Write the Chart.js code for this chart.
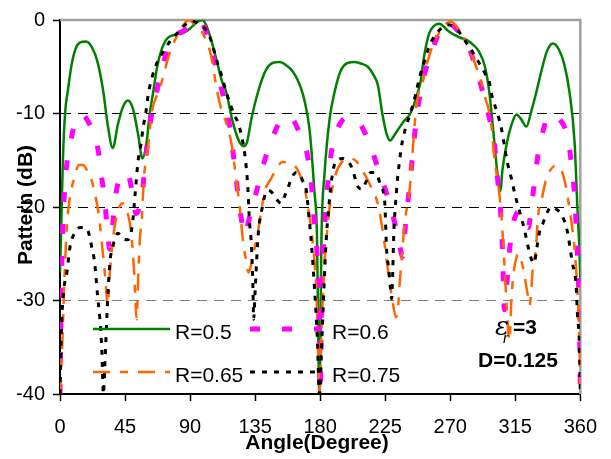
<!DOCTYPE html>
<html>
<head>
<meta charset="utf-8">
<script src="https://cdn.jsdelivr.net/npm/chart.js@4.4.0/dist/chart.umd.min.js"></script>
<style>
  html, body { margin: 0; padding: 0; background: #fff; }
  #wrap { width: 611px; height: 459px; }
</style>
</head>
<body>
<div id="wrap"><canvas id="canvas" width="611" height="459"></canvas></div>
<script>
// angle (degree) / pattern (dB)
var angR05 = [0, 1, 2, 3.5, 5.5, 8, 11, 14, 18, 22, 26, 30, 33, 36.5, 40, 43.5, 47, 50.5, 54, 57, 60, 62, 64.5, 67, 70, 74, 79, 85, 90, 95, 98.5, 101, 104, 108, 112, 115, 119.5, 124, 127, 129.5, 132.5, 137, 142, 147, 152, 157, 161, 165, 168, 171, 173, 176, 177.7, 179.5, 181, 183, 186.6, 190, 194, 199, 204, 209, 213, 217, 220, 223, 226, 228.5, 231, 234, 238, 242, 245, 247, 249.5, 252, 255.5, 259, 262.5, 265.5, 268, 273, 277, 281, 285.5, 290, 294, 297, 300.5, 302.7, 304.8, 306, 309, 312.4, 315.8, 319, 322.7, 326, 329.6, 333, 337, 341, 345, 349, 352.5, 356, 358, 359.4, 360];
var valR05 = [-27, -21, -15, -10, -7.5, -4.8, -3, -2.4, -2.3, -2.9, -4.5, -7.7, -11.2, -13.7, -11.2, -9.3, -8.6, -9.5, -12.2, -14.8, -13, -10.1, -7.7, -5.2, -3.3, -2, -1.6, -1.4, -0.9, -0.2, 0, -0.5, -1.8, -4.1, -6.5, -7.7, -10.9, -13, -13.5, -13, -10.5, -7.7, -5.5, -4.6, -4.5, -4.9, -5.5, -6.6, -7.9, -10, -12.2, -18.3, -22.6, -40, -22.6, -16.5, -10.5, -7.7, -5.5, -4.6, -4.5, -4.7, -5, -5.9, -7, -10, -12.2, -12.9, -12.4, -11.7, -10.8, -10.1, -9, -8, -6.6, -3.8, -1.4, -0.6, -0.4, -0.7, -1.1, -1.6, -1.9, -2.1, -2.6, -3.4, -5, -7.7, -13, -16.5, -18.3, -16.2, -13.3, -11.2, -10.1, -10.6, -11.4, -9.8, -7.7, -5.5, -3.3, -2.5, -3.1, -4.8, -7.7, -13, -20.1, -24.7, -28];

var angR06 = [0, 1, 2, 3.5, 5, 7, 10, 13.5, 17, 21, 24, 27, 29, 31, 33, 34.5, 36.5, 38.5, 41, 44.5, 48, 50.5, 52.5, 54.5, 56.7, 58.7, 61, 63.5, 66, 70, 75, 79.5, 85, 90, 96, 100, 103, 105.8, 109, 112, 115, 117.5, 120, 122.5, 125, 128, 130.5, 133.6, 136.5, 139.5, 143, 147, 152, 157, 161, 165, 168, 170.6, 172.5, 174, 175.5, 177.5, 179, 180, 181, 183, 184.5, 186.6, 188.5, 191.3, 195, 199, 204, 208, 212, 215.6, 219, 223, 226.5, 230, 233, 235, 237, 239, 241, 242.5, 244, 246.7, 248.5, 251, 254, 257, 260, 263, 267, 271, 276, 280, 283, 286.5, 290, 293, 296, 298.5, 300.6, 302.7, 304.8, 306, 307.5, 309, 311, 313, 315.5, 318.5, 321.5, 324, 326, 328, 331, 334, 337, 340, 343, 346.5, 349.7, 352, 353.8, 356, 357.2, 358.5, 359.4, 360];
var valR06 = [-40, -28, -22, -17.5, -15, -13.3, -11.2, -10.1, -10.3, -11.3, -12.3, -14.5, -17, -19.3, -23, -24.5, -21.8, -18.8, -17, -16.3, -16.9, -19, -20.7, -20.3, -19, -15.6, -12.6, -10, -8.4, -5.4, -3, -1.7, -1.2, -0.8, 0, -0.8, -2.2, -3.8, -5.6, -7.5, -9.6, -11.4, -14.5, -17.8, -20.8, -23, -21.5, -19.7, -18, -16.2, -14.3, -12.6, -10.9, -10.3, -10.6, -11.8, -12.8, -14, -15.8, -17.6, -20.8, -24, -31, -40, -30, -22.5, -19, -15.5, -13.5, -11.9, -10.8, -10.4, -10.5, -11.2, -12.4, -13.8, -15.4, -17.2, -18.8, -20.7, -22.6, -24.1, -25.3, -22, -19, -17, -14.3, -10.5, -8.5, -6.6, -4.8, -3.4, -2.2, -1.1, -0.3, -0.5, -1.3, -2.2, -3, -4.5, -6.3, -8, -9.8, -11.5, -13.3, -16.9, -20.4, -24, -31, -28.5, -24.7, -22.2, -20.8, -20.4, -21, -22.2, -20.3, -17.7, -14.1, -12, -10.5, -10.1, -10.3, -10.8, -11.7, -13.2, -15.3, -18.7, -22.3, -27, -32, -40];

var angR065 = [0, 1.5, 3, 4.8, 7, 9.7, 13, 16, 19, 22, 24, 26, 27.6, 29, 30.4, 31.5, 33, 34.5, 36.6, 38.5, 41, 43.5, 46, 48.4, 50, 51.5, 53, 54.2, 55.2, 56.7, 58, 60.8, 63.6, 68, 71, 74.7, 78, 83, 86.5, 89, 92, 97, 100, 103, 105.5, 108, 111, 115, 118.7, 122, 124.4, 126.6, 128.5, 130.5, 132.5, 134.5, 137, 139.5, 141.7, 146.3, 150, 154, 158, 163.5, 167, 170.6, 172.8, 175, 177, 178.5, 179.5, 181, 183, 185.5, 187.7, 190.7, 195.5, 200, 205, 209.6, 212.5, 215.6, 220, 222.5, 224.6, 226.7, 228.5, 230, 232.5, 234, 235, 236.3, 238.4, 240.3, 242, 244, 246.7, 251, 254, 258, 263, 267, 270.6, 274, 278, 283, 287, 291.4, 294.5, 296, 298.5, 300.6, 304, 306, 307.8, 309.6, 311, 312.3, 313.5, 315.8, 317.5, 319, 321, 323.5, 325, 326, 327, 329.4, 330.6, 333, 336.4, 339.5, 342.5, 346, 349.7, 353, 356, 358, 359.3, 360];
var valR065 = [-40, -35, -28, -22, -18.8, -17, -15.5, -15.5, -16.2, -17.2, -18.5, -20, -21.8, -24, -26, -28, -30.5, -27, -23.5, -21.5, -20, -19.6, -20.3, -21.8, -24, -27.5, -32, -27, -23.6, -21, -17, -13.7, -9.8, -7.7, -6.3, -4.1, -2.7, -1.1, -0.3, 0, -0.3, -1, -1.8, -2.9, -4.6, -7, -9.2, -11, -13.3, -17.2, -20.1, -23.6, -25.5, -27, -26, -24.5, -22.6, -20.2, -18.3, -16.9, -15.8, -15.2, -15.3, -15.8, -17, -19, -21.2, -24, -28, -34, -40, -33, -26, -21.5, -18.6, -16.5, -15.1, -14.8, -15.1, -16.2, -17, -18, -19.7, -21.8, -24, -26.5, -28.5, -30, -31.8, -30.5, -28.2, -25.7, -21.8, -19.8, -18, -14, -9, -6.6, -4.6, -2.7, -1.2, -0.4, -0.2, -0.6, -1.5, -3, -4.6, -6.6, -8.5, -9.2, -11.3, -14.8, -18.6, -22.2, -27, -32.1, -34.3, -30, -27.5, -25.4, -25, -25.6, -27, -29.3, -30.5, -29, -26.8, -24.3, -21.2, -19.4, -17, -16, -15.6, -15.8, -17.6, -20.7, -24.4, -29, -34, -40];

var angR075 = [0, 1, 2.5, 4.8, 6.9, 10.4, 14, 18.5, 22, 24, 26, 27.6, 29, 30, 31, 32.5, 34.5, 36.6, 40, 43.5, 47, 50, 52, 54, 56, 57.4, 59.4, 61, 63.4, 67, 71.4, 76, 80.6, 86, 91, 96, 102, 105, 108, 111.5, 115, 118.7, 121, 123, 125.6, 127.8, 129, 130, 131, 132.4, 133.4, 134, 135, 136.3, 137.5, 139.5, 141.7, 144, 147, 150, 153, 155.5, 157.6, 160.5, 163.6, 166, 168, 170.6, 172, 174, 176, 178, 179.5, 181.5, 184, 186, 188, 190, 193, 195.6, 199, 202, 206, 209, 212, 215, 217.7, 220, 222, 224.6, 226, 227.4, 228.5, 229.5, 230.2, 231, 232, 233.6, 235, 236.5, 239, 242.4, 246, 249, 252, 255, 258, 263, 268, 272, 277.8, 281, 285.4, 290, 294, 297, 299, 302.7, 305.5, 309.6, 312.4, 315, 318, 321, 323.5, 326, 328, 330, 332, 334, 337, 340, 344, 347.6, 351, 354.5, 357, 358, 359.4, 360];
var valR075 = [-40, -33, -29, -27, -24.3, -22.7, -22.2, -22.3, -24.3, -26, -29.5, -32, -35.5, -40, -37, -31.5, -26, -24.2, -22.8, -23.4, -23.5, -22, -18.6, -15.1, -13.3, -11.6, -9.9, -8, -6.3, -4.6, -3.4, -2.3, -1.5, -0.6, -0.1, -0.4, -1.3, -2.4, -4.1, -5.8, -7.7, -9.4, -10.3, -10.9, -12.4, -14.3, -16, -18, -21.3, -24, -28, -32, -29, -25, -22.3, -20.4, -18.8, -18.2, -18.5, -19.2, -19.6, -18.8, -18, -16.8, -16.3, -16.6, -17.2, -18.4, -20.7, -24, -28.5, -34, -40, -33, -24, -20, -17, -15.4, -14.9, -14.8, -15.1, -15.8, -17.8, -18.1, -17.2, -16.3, -16.3, -16.8, -17.8, -19.3, -24.7, -26.5, -28.5, -29.8, -27, -22.5, -20, -16.9, -15, -13.3, -11.6, -10, -8, -6, -4.5, -3, -2, -1, -0.5, -0.7, -1.6, -2.4, -3.4, -4.6, -5.7, -6.6, -8.2, -10, -11.7, -15.3, -17, -18.8, -20.5, -22.2, -24, -25.5, -26, -24.3, -22.5, -21.8, -20.6, -20, -20.3, -21, -22.6, -26, -28.2, -31.4, -35, -40];

var seriesNames = ['R=0.5', 'R=0.6', 'R=0.65', 'R=0.75'];
var xTicks = [0, 45, 90, 135, 180, 225, 270, 315, 360];
var yTicks = [0, -10, -20, -30, -40];

var FONT = "'Liberation Sans', Arial, sans-serif";

function toPoints(xs, ys) {
    var pts = [];
    for (var i = 0; i < xs.length; i++) {
        pts.push({x: xs[i], y: ys[i]});
    }
    return pts;
}

function lineSet(label, xs, ys, color, width, dash, order) {
    return {
        label: label,
        data: toPoints(xs, ys),
        borderColor: color,
        backgroundColor: color,
        borderWidth: width,
        borderDash: dash,
        borderCapStyle: 'butt',
        pointRadius: 0,
        fill: false,
        cubicInterpolationMode: 'monotone',
        order: order
    };
}

// frame, legend, axis titles and the notes
var overlay = {
    id: 'overlay',
    beforeDatasetsDraw: function (chart) {
        var ctx = chart.ctx, a = chart.chartArea;
        ctx.save();
        ctx.strokeStyle = '#a0a0a0';
        ctx.lineWidth = 2.5;
        ctx.beginPath();
        ctx.moveTo(a.left, a.top);
        ctx.lineTo(a.right, a.top);
        ctx.lineTo(a.right, a.bottom);
        ctx.stroke();
        ctx.restore();
    },
    afterDraw: function (chart) {
        var ctx = chart.ctx;
        var ds = chart.data.datasets;
        ctx.save();

        // legend
        var items = [
            {i: 0, x1: 93, x2: 170, y: 329, tx: 175, ty: 339},
            {i: 1, x1: 250, x2: 322, y: 329, tx: 332, ty: 339},
            {i: 2, x1: 93, x2: 170, y: 372, tx: 175, ty: 382},
            {i: 3, x1: 250, x2: 322, y: 372, tx: 332, ty: 382}
        ];
        items.forEach(function (it) {
            var d = ds[it.i];
            ctx.strokeStyle = d.borderColor;
            ctx.lineWidth = d.borderWidth;
            ctx.setLineDash(d.borderDash || []);
            ctx.beginPath();
            ctx.moveTo(it.x1, it.y);
            ctx.lineTo(it.x2, it.y);
            ctx.stroke();
            ctx.setLineDash([]);
            ctx.fillStyle = '#000';
            ctx.font = '21px ' + FONT;
            ctx.textAlign = 'left';
            ctx.textBaseline = 'alphabetic';
            ctx.fillText(d.label, it.tx, it.ty);
        });

        // epsilon_r = 3, D = 0.125
        ctx.fillStyle = '#000';
        ctx.textAlign = 'left';
        ctx.font = 'italic 26px "DejaVu Serif", serif';
        ctx.fillText('\u03b5', 495, 335);
        ctx.font = 'italic 15px ' + FONT;
        ctx.fillText('r', 503, 343);
        ctx.font = 'bold 21px ' + FONT;
        ctx.fillText('=3', 513, 334);
        ctx.fillText('D=0.125', 478, 367);

        // axis titles
        ctx.font = 'bold 21px ' + FONT;
        ctx.textAlign = 'center';
        ctx.fillText('Angle(Degree)', 317, 449);
        ctx.save();
        ctx.translate(26, 205);
        ctx.rotate(-Math.PI / 2);
        ctx.textBaseline = 'middle';
        ctx.fillText('Pattern (dB)', 0, 0);
        ctx.restore();

        ctx.restore();
    }
};

window.onload = function () {
    Chart.defaults.color = '#000';
    Chart.defaults.font.family = FONT;
    var ctx = document.getElementById('canvas').getContext('2d');
    window.myChart = new Chart(ctx, {
        type: 'line',
        data: {
            datasets: [
                lineSet(seriesNames[0], angR05, valR05, '#008000', 2.5, [], 4),
                lineSet(seriesNames[1], angR06, valR06, '#ff00ff', 5, [10, 22], 3),
                lineSet(seriesNames[2], angR065, valR065, '#ff6600', 2.5, [17, 10, 8, 10], 2),
                lineSet(seriesNames[3], angR075, valR075, '#000000', 3, [5, 7], 1)
            ]
        },
        options: {
            responsive: false,
            animation: false,
            layout: {padding: {top: 18, right: 30, left: 0, bottom: 0}},
            plugins: {
                legend: {display: false},
                title: {display: false},
                tooltip: {enabled: false}
            },
            scales: {
                x: {
                    type: 'linear',
                    min: 0,
                    max: 360,
                    afterFit: function (s) { s.height = 65; },
                    afterBuildTicks: function (s) {
                        s.ticks = xTicks.map(function (v) { return {value: v}; });
                    },
                    ticks: {
                        font: {size: 20},
                        padding: 14,
                        maxRotation: 0,
                        autoSkip: false
                    },
                    grid: {
                        drawOnChartArea: false,
                        drawTicks: true,
                        tickLength: 7,
                        tickColor: '#000',
                        tickWidth: 1.5
                    },
                    border: {display: true, color: '#000', width: 2}
                },
                y: {
                    type: 'linear',
                    min: -40,
                    max: 0,
                    afterFit: function (s) { s.width = 60; },
                    afterBuildTicks: function (s) {
                        s.ticks = yTicks.map(function (v) { return {value: v}; });
                    },
                    ticks: {
                        font: {size: 20},
                        padding: 8,
                        autoSkip: false
                    },
                    grid: {
                        drawTicks: true,
                        tickLength: 7,
                        tickColor: '#000',
                        tickWidth: 1.5,
                        lineWidth: 1,
                        color: function (c) {
                            var v = c.tick ? c.tick.value : null;
                            if (v === -10 || v === -20) return '#000';
                            if (v === -30) return '#808080';
                            return 'rgba(0,0,0,0)';
                        }
                    },
                    border: {display: true, color: '#000', width: 2, dash: [10, 7]}
                }
            }
        },
        plugins: [overlay]
    });
};
</script>
</body>
</html>
